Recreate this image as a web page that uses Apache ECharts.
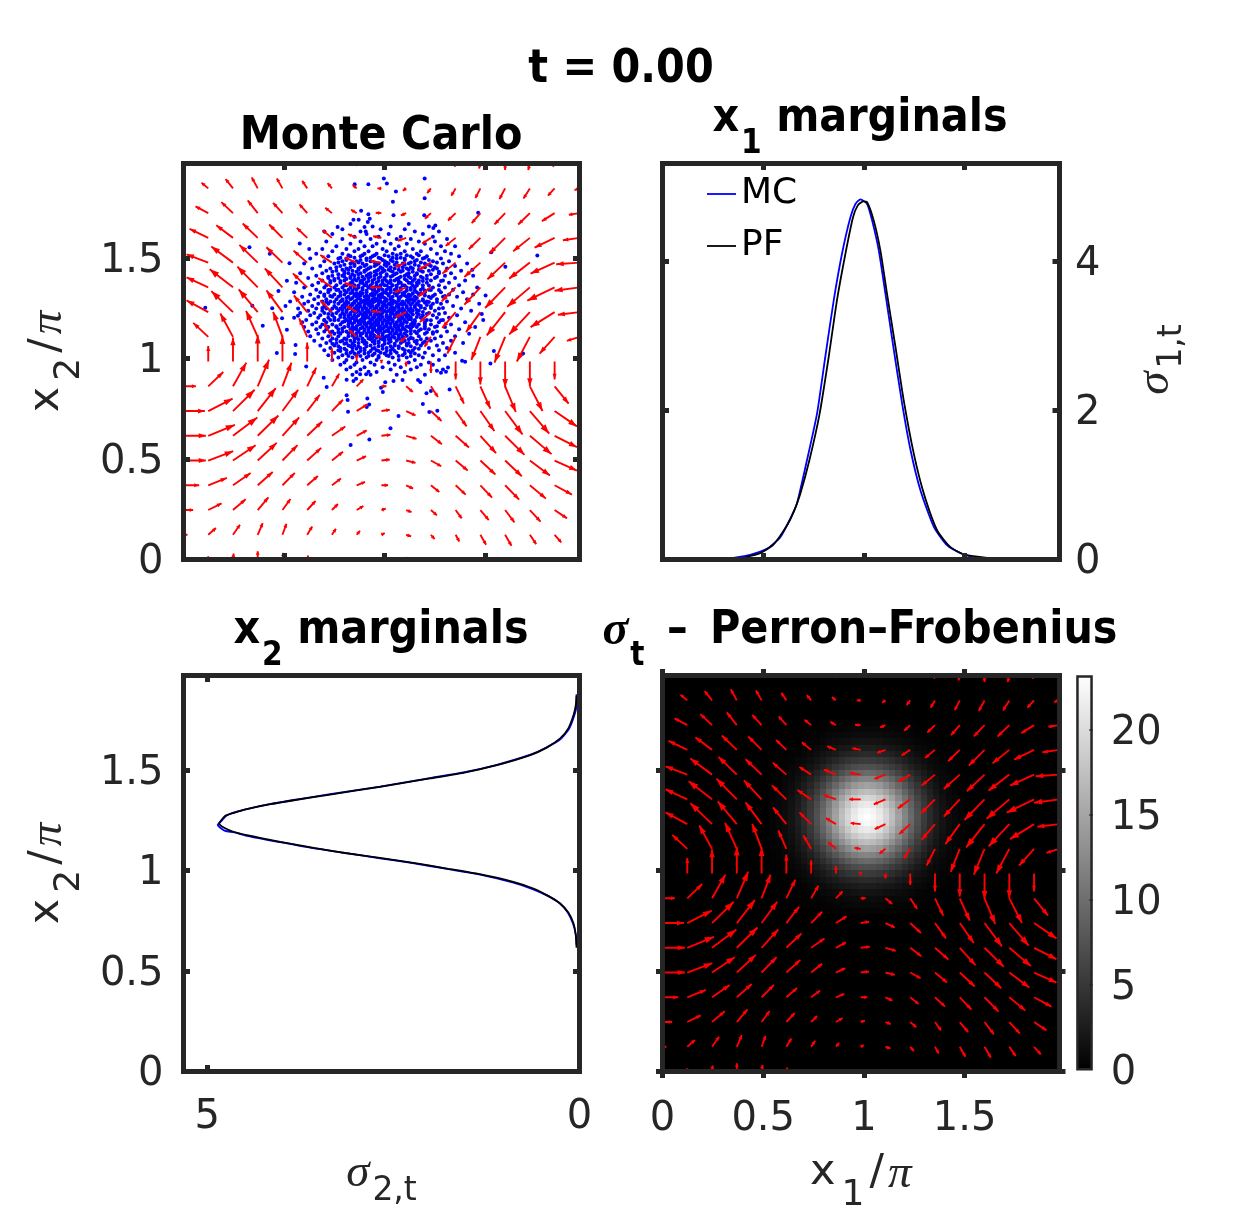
<!DOCTYPE html>
<html>
<head>
<meta charset="utf-8">
<title>t = 0.00</title>
<script src="https://cdn.jsdelivr.net/npm/echarts@6/dist/echarts.min.js"></script>
<style>
html, body { margin: 0; padding: 0; background: #fff; }
#main { width: 1250px; height: 1212px; }
</style>
</head>
<body>
<div id="main"></div>
<script>
// axis ranges and ticks
var phaseMax = 1.96875;
var phaseTicks = [0, 0.5, 1, 1.5];
var sigma1Max = 5.31;
var sigma1Ticks = [0, 2, 4];
var sigma2Max = 5.32;
var sigma2Ticks = [0, 5];
var colorMax = 23.2;
var colorTicks = [5, 10, 15, 20];
var colorLabels = [0, 5, 10, 15, 20];

// x1 marginals
var pfX1 = [0.41, 0.485, 0.551, 0.618, 0.651, 0.684, 0.729, 0.78, 0.825, 0.866, 0.908, 0.946, 0.969, 0.996, 1.016, 1.049, 1.082, 1.115, 1.157, 1.198, 1.248, 1.298, 1.364, 1.43, 1.497, 1.621, 1.7];
var pfSigma1 = [0.03, 0.085, 0.2, 0.456, 0.634, 0.88, 1.327, 1.953, 2.712, 3.472, 4.097, 4.589, 4.745, 4.803, 4.79, 4.544, 4.142, 3.561, 2.846, 2.131, 1.416, 0.88, 0.389, 0.165, 0.067, 0.02, 0];
var mcX1 = [0.352, 0.435, 0.518, 0.585, 0.634, 0.667, 0.717, 0.767, 0.808, 0.85, 0.891, 0.933, 0.958, 0.983, 1.016, 1.041, 1.074, 1.107, 1.149, 1.19, 1.232, 1.281, 1.348, 1.414, 1.48, 1.547];
var mcSigma1 = [0.02, 0.063, 0.143, 0.3, 0.545, 0.746, 1.327, 1.953, 2.712, 3.472, 4.097, 4.589, 4.767, 4.83, 4.767, 4.544, 4.142, 3.561, 2.802, 2.087, 1.461, 0.925, 0.433, 0.188, 0.085, 0.022];

// x2 marginals
var pfX2 = [0.615, 0.678, 0.736, 0.79, 0.835, 0.873, 0.91, 0.943, 0.981, 1.009, 1.037, 1.062, 1.085, 1.112, 1.142, 1.175, 1.192, 1.213, 1.233, 1.255, 1.271, 1.285, 1.304, 1.329, 1.351, 1.377, 1.415, 1.457, 1.485, 1.523, 1.573, 1.61, 1.656, 1.706, 1.772, 1.822, 1.868];
var pfSigma2 = [0.04, 0.05, 0.08, 0.15, 0.26, 0.42, 0.62, 0.89, 1.34, 1.78, 2.23, 2.68, 3.13, 3.57, 4.02, 4.47, 4.65, 4.78, 4.84, 4.8, 4.76, 4.65, 4.47, 4.15, 3.8, 3.35, 2.68, 2.01, 1.56, 1.11, 0.66, 0.44, 0.26, 0.15, 0.08, 0.05, 0.04];
var mcX2 = [0.63, 0.68, 0.738, 0.792, 0.838, 0.872, 0.907, 0.94, 0.98, 1.007, 1.036, 1.06, 1.086, 1.11, 1.14, 1.172, 1.19, 1.196, 1.225, 1.25, 1.27, 1.287, 1.305, 1.33, 1.352, 1.379, 1.416, 1.459, 1.487, 1.525, 1.575, 1.612, 1.654, 1.704, 1.77, 1.82, 1.875];
var mcSigma2 = [0.04, 0.05, 0.09, 0.16, 0.27, 0.42, 0.63, 0.9, 1.35, 1.78, 2.24, 2.68, 3.13, 3.58, 4.02, 4.47, 4.65, 4.76, 4.86, 4.8, 4.75, 4.65, 4.47, 4.15, 3.8, 3.35, 2.68, 2.01, 1.56, 1.11, 0.66, 0.44, 0.25, 0.14, 0.07, 0.04, 0.04];

// quiver grid and components, bottom row first
var quiverGrid = [0, 0.123, 0.246, 0.369, 0.492, 0.615, 0.738, 0.861, 0.984, 1.107, 1.23, 1.353, 1.476, 1.599, 1.722, 1.845, 1.969];
var quiverU = [
  [0, 0, 2, 0, 3, 3, 0, 5, 0, 2, 2, 3, 3, 3, 3, 2, 0],
  [12, 23, 21, 15, 12, 15, 12, 10, 10, 15, 11, 11, 17, 19, 19, 20, 10],
  [29, 40, 38, 32, 24, 25, 18, 20, 13, 16, 18, 18, 25, 28, 32, 37, 20],
  [47, 56, 53, 45, 37, 32, 27, 25, 20, 21, 25, 30, 35, 42, 48, 52, 30],
  [67, 75, 68, 57, 45, 42, 33, 28, 25, 28, 31, 36, 45, 50, 60, 67, 40],
  [67, 80, 73, 62, 50, 45, 40, 30, 27, 31, 33, 40, 47, 58, 65, 67, 40],
  [64, 73, 65, 54, 47, 38, 33, 32, 25, 28, 32, 33, 42, 52, 58, 67, 40],
  [37, 45, 40, 34, 27, 27, 22, 20, 15, 20, 21, 25, 30, 32, 38, 42, 20],
  [0, 0, 0, 0, 0, 0, 0, 0, 0, 0, 0, 0, 0, 0, 0, 0, 0],
  [-20, -45, -38, -35, -28, -24, -23, -23, -18, -18, -19, -25, -27, -32, -39, -45, -38],
  [-40, -65, -65, -57, -48, -40, -35, -30, -30, -32, -33, -40, -43, -55, -62, -72, -65],
  [-40, -65, -70, -61, -53, -43, -41, -36, -34, -35, -37, -42, -48, -60, -68, -82, -75],
  [-40, -65, -65, -55, -48, -41, -35, -36, -32, -33, -35, -40, -48, -53, -62, -72, -70],
  [-30, -56, -50, -45, -40, -31, -28, -26, -25, -25, -26, -30, -35, -47, -50, -60, -50],
  [-20, -38, -35, -30, -28, -23, -20, -17, -17, -16, -18, -23, -26, -32, -35, -38, -32],
  [-10, -20, -22, -18, -17, -15, -13, -12, -12, -10, -11, -13, -15, -17, -19, -20, -15],
  [0, -3, -3, -3, -3, -3, -3, -2, -2, -2, -7, -3, -4, 0, -5, -5, 0]
];
var quiverV = [
  [0, 10, 18, 25, 20, 12, 5, 5, 0, -3, -5, -8, -10, -12, -12, -8, 0],
  [0, 20, 30, 35, 33, 25, 18, 12, 5, -5, -13, -20, -30, -33, -28, -23, -5],
  [0, 20, 32, 38, 33, 27, 18, 12, 4, -6, -16, -25, -30, -37, -35, -25, -8],
  [0, 22, 37, 40, 37, 28, 20, 10, 0, -10, -20, -28, -37, -43, -40, -28, -10],
  [0, 28, 46, 53, 46, 38, 26, 13, 3, -7, -17, -30, -42, -47, -45, -30, -10],
  [0, 33, 55, 61, 55, 43, 28, 16, 3, -9, -25, -35, -52, -57, -55, -34, -10],
  [0, 37, 64, 69, 64, 49, 34, 20, 4, -13, -30, -46, -60, -70, -68, -46, -15],
  [0, 43, 71, 80, 71, 56, 38, 21, 0, -17, -32, -52, -67, -77, -74, -52, -20],
  [0, 47, 72, 80, 78, 57, 40, 23, -5, -15, -34, -54, -69, -77, -74, -54, 0],
  [20, 42, 70, 78, 75, 55, 40, 20, 3, -15, -30, -50, -69, -77, -74, -50, -12],
  [20, 35, 63, 68, 65, 50, 35, 18, 3, -15, -30, -47, -60, -70, -67, -45, -8],
  [15, 30, 54, 62, 57, 42, 28, 13, 0, -15, -27, -42, -52, -62, -58, -40, -10],
  [15, 25, 48, 53, 46, 36, 23, 15, 5, -13, -21, -33, -43, -50, -48, -33, -5],
  [10, 27, 38, 43, 40, 30, 23, 11, 5, -9, -17, -24, -34, -47, -40, -29, -7],
  [10, 20, 33, 38, 31, 26, 16, 10, 1, -7, -17, -22, -30, -34, -34, -24, -5],
  [5, 17, 28, 33, 30, 23, 16, 10, 0, -7, -14, -22, -29, -32, -30, -22, -5],
  [0, 5, 8, 10, 10, 8, 5, 3, 0, -3, -4, -10, -15, -20, -20, -10, 0]
];
var quiverScale = 1 / 603;

// Monte Carlo samples: stray points as [x, y]
var mcStray = [
  [.996,1.894],[1.199,1.894],[.851,1.865],[.919,1.865],[1.011,1.869],[1.056,1.83],[1.199,1.796],[1.041,1.779],
  [.883,1.734],[.845,1.689],[.871,1.689],[.919,1.717],[.926,1.694],[.916,1.678],[1.044,1.712],[1.197,1.712],
  [1.465,1.724],[1.252,1.661],[1.242,1.648],[.766,1.653],[.7,1.631],[.9,1.653],[.906,1.631],[.328,1.553],
  [.578,1.571],[.625,1.544],[.429,1.52],[.527,1.473],[.514,1.386],[.472,1.335],[.108,1.252],[.342,1.262],
  [.441,1.249],[.507,1.26],[.394,1.162],[.514,1.142],[.49,1.199],[.464,1.027],[.557,1.067],[.555,1.022],
  [.61,.959],[.569,1.212],[1.759,1.511],[1.6,1.456],[1.53,1.528],[1.436,1.441],[1.502,1.312],[1.483,1.22],
  [1.543,1.037],[1.526,.974],[1.688,1.024],[1.385,.988],[1.4,.983],[1.323,.845],[.697,.904],[.712,.858],
  [.811,.816],[.816,.793],[.818,.735],[.831,.569],[.924,.597],[1.029,.653],[1.069,.713],[1.222,.733],
  [1.262,.74],[1.19,.773],[1.208,.826],[1.23,.838],[1.177,.883],[1.166,.893],[.914,.8],[.923,.771],
  [.911,.758],[.991,.833],[.982,.854],[1.003,.881],[1.044,.888],[1.089,.893],[.858,.899],[.811,.894],
  [.845,.888],[.878,.921],[.908,.921],[.92,.934],[1.26,.938],[1.28,.929],[1.305,.934],[1.315,.954]
];
// dense part of the cloud: each row is y followed by its x values
var mcCloud = [
  [1.668,.83,1.12],
  [1.655,.94,1.03,1.22],
  [1.642,.79,.98,1.1],
  [1.631,.88,1.15,1.27],
  [1.618,.74,.91,1.02,1.19],
  [1.605,.85,.97,1.08,1.24],
  [1.594,.79,.93,1.06,1.13,1.31],
  [1.581,.71,.88,1,1.17,1.25],
  [1.57,.83,.96,1.03,1.11,1.2],
  [1.557,.76,.9,.94,1.07,1.28,1.35],
  [1.544,.69,.81,.87,.99,1.05,1.14,1.23],
  [1.533,.74,.85,.92,1.01,1.1,1.18,1.3],
  [1.52,.66,.79,.9,.96,1.04,1.08,1.16,1.26,1.33],
  [1.508,.72,.83,.88,.94,1.02,1.13,1.21,1.37],
  [1.496,.63,.77,.81,.91,.98,1.06,1.1,1.19,1.28],
  [1.483,.7,.79,.86,.93,1,1.04,1.15,1.24,1.32],
  [1.472,.6,.75,.83,.89,.97,1.02,1.09,1.12,1.2,1.29,1.41],
  [1.459,.68,.78,.85,.9,.95,1.01,1.07,1.17,1.23,1.35],
  [1.447,.64,.73,.81,.87,.92,.99,1.05,1.11,1.14,1.26,1.31],
  [1.436,.71,.76,.84,.9,.96,1,1.03,1.09,1.18,1.22,1.38],
  [1.423,.58,.69,.8,.82,.88,.93,.98,1.06,1.12,1.16,1.27,1.33],
  [1.411,.66,.74,.79,.85,.91,.95,1.01,1.04,1.1,1.15,1.21,1.3,1.44],
  [1.399,.62,.72,.77,.83,.87,.92,.97,1,1.07,1.13,1.19,1.25,1.35],
  [1.387,.69,.75,.8,.86,.89,.94,.99,1.03,1.05,1.11,1.17,1.23,1.29,1.4],
  [1.376,.56,.67,.73,.78,.84,.88,.91,.96,1.02,1.08,1.12,1.16,1.21,1.32],
  [1.364,.64,.71,.76,.81,.85,.9,.93,.98,1,1.04,1.09,1.14,1.19,1.27,1.37],
  [1.352,.6,.7,.75,.79,.83,.87,.92,.95,.97,1.03,1.06,1.11,1.15,1.24,1.3,1.46],
  [1.341,.66,.73,.77,.82,.86,.89,.94,.99,1.01,1.05,1.08,1.13,1.18,1.22,1.34],
  [1.329,.55,.68,.72,.78,.81,.84,.88,.91,.96,1,1.03,1.07,1.1,1.16,1.2,1.28,1.39],
  [1.318,.63,.7,.75,.8,.85,.87,.93,.95,.98,1.02,1.06,1.09,1.12,1.17,1.25,1.32,1.44],
  [1.306,.59,.67,.74,.77,.82,.86,.9,.92,.97,.99,1.04,1.08,1.11,1.15,1.22,1.29,1.36],
  [1.294,.65,.71,.76,.79,.83,.88,.91,.94,.96,1.01,1.03,1.07,1.13,1.14,1.19,1.26,1.41],
  [1.283,.53,.62,.69,.73,.78,.81,.85,.89,.93,.95,.98,1,1.05,1.09,1.12,1.17,1.21,1.31],
  [1.271,.6,.67,.72,.77,.8,.84,.87,.9,.92,.97,1.02,1.04,1.08,1.1,1.16,1.24,1.28,1.47],
  [1.26,.64,.7,.75,.79,.83,.86,.88,.94,.96,.99,1.01,1.06,1.11,1.15,1.18,1.23,1.34],
  [1.248,.57,.66,.71,.74,.78,.82,.85,.89,.91,.95,.98,1.03,1.05,1.09,1.13,1.2,1.27,1.38],
  [1.237,.62,.69,.73,.77,.81,.84,.87,.92,.94,.97,1,1.02,1.07,1.1,1.14,1.17,1.25,1.43],
  [1.225,.58,.65,.7,.76,.79,.83,.88,.9,.93,.96,.99,1.04,1.06,1.11,1.16,1.22,1.3],
  [1.214,.63,.68,.74,.78,.82,.85,.87,.91,.95,.98,1.01,1.05,1.08,1.12,1.19,1.24,1.36],
  [1.202,.55,.67,.72,.75,.8,.84,.89,.92,.94,.97,1.02,1.03,1.09,1.13,1.18,1.26,1.32],
  [1.191,.61,.7,.73,.77,.81,.86,.88,.93,.96,1,1.04,1.07,1.1,1.15,1.21,1.29,1.49],
  [1.179,.59,.66,.71,.79,.83,.85,.9,.92,.95,.99,1.02,1.06,1.11,1.14,1.2,1.27,1.4],
  [1.168,.64,.69,.74,.78,.82,.87,.91,.94,.97,1.01,1.05,1.08,1.13,1.17,1.23,1.33],
  [1.156,.6,.68,.72,.76,.8,.84,.89,.93,.98,1,1.03,1.09,1.12,1.16,1.25,1.3,1.45],
  [1.145,.66,.71,.77,.83,.86,.9,.95,.97,1.04,1.07,1.1,1.18,1.22,1.37],
  [1.133,.62,.7,.74,.79,.81,.87,.92,.96,1,1.02,1.06,1.11,1.15,1.26,1.31],
  [1.122,.67,.75,.78,.84,.88,.91,.94,.99,1.05,1.08,1.13,1.2,1.24,1.42],
  [1.11,.63,.72,.77,.82,.86,.93,.97,1.01,1.04,1.09,1.17,1.28,1.35],
  [1.099,.69,.74,.8,.85,.89,.92,.98,1.03,1.07,1.14,1.21,1.25],
  [1.087,.65,.73,.79,.83,.9,.95,1,1.06,1.1,1.16,1.23,1.33],
  [1.076,.71,.76,.81,.87,.91,.97,1.02,1.08,1.12,1.19,1.29,1.39],
  [1.064,.68,.75,.82,.85,.93,.99,1.05,1.11,1.18,1.26],
  [1.052,.73,.78,.84,.88,.95,1.01,1.07,1.15,1.22,1.31],
  [1.04,.7,.77,.81,.9,.96,1.03,1.1,1.14,1.27],
  [1.028,.75,.83,.87,.92,.98,1.06,1.13,1.2,1.35],
  [1.016,.72,.79,.86,.94,1.01,1.09,1.17,1.24,1.3],
  [1.004,.77,.84,.91,.97,1.04,1.11,1.19],
  [.992,.74,.81,.89,.96,1.07,1.15,1.27],
  [.98,.8,.86,.93,1.02,1.12,1.22],
  [.968,.78,.85,.95,1.05,1.18,1.24],
  [.956,.83,.9,.99,1.08,1.16],
  [.944,.81,.88,1.03,1.13,1.29],
  [.932,.86,.96,1.1],
  [.918,.84,.93,1.06,1.2]
];
// the solid middle of the cloud, same row layout
var mcCore = [
  [1.512,.82,.89,.95,1,1.06,1.11,1.17],
  [1.5,.78,.85,.93,.97,1.04,1.08,1.14,1.2],
  [1.489,.81,.88,.91,.99,1.03,1.1,1.16,1.22],
  [1.477,.77,.84,.87,.95,1.01,1.06,1.13,1.18,1.26],
  [1.465,.8,.85,.91,.96,1,1.05,1.1,1.15,1.22],
  [1.453,.76,.83,.88,.93,.98,1.03,1.09,1.13,1.2,1.25],
  [1.441,.79,.82,.87,.91,.97,1.02,1.07,1.12,1.17,1.24],
  [1.43,.74,.8,.86,.9,.95,.99,1.04,1.08,1.14,1.19,1.27],
  [1.418,.77,.84,.87,.92,.96,1.01,1.05,1.11,1.16,1.23],
  [1.406,.72,.8,.83,.89,.93,.98,1.03,1.08,1.12,1.18,1.26],
  [1.394,.75,.81,.85,.9,.95,1,1.06,1.1,1.15,1.21],
  [1.384,.73,.78,.84,.88,.92,.97,1.01,1.07,1.14,1.19,1.28],
  [1.375,.83,.89,.94,.99,1.03,1.07,1.13,1.17],
  [1.362,.8,.87,.91,.96,1.01,1.06,1.1,1.16,1.22],
  [1.35,.85,.89,.93,.98,1.02,1.08,1.13,1.19],
  [1.34,.72,.76,1.23,1.27],
  [1.337,.8,.84,.91,.95,.97,1.03,1.06,1.11,1.15,1.2],
  [1.324,.83,.86,.89,.94,.99,1.01,1.05,1.09,1.14,1.18],
  [1.312,.78,.85,.88,.91,.94,.97,1.02,1.06,1.1,1.13,1.2],
  [1.31,.7,.73,1.24,1.3],
  [1.3,.81,.84,.87,.92,.95,.98,1,1.03,1.07,1.12,1.16,1.23],
  [1.288,.79,.86,.9,.92,.96,.97,1.01,1.04,1.07,1.11,1.15,1.19],
  [1.28,.71,.75,1.22,1.26],
  [1.276,.82,.85,.88,.91,.94,.99,1,1.03,1.06,1.12,1.14,1.2],
  [1.265,.81,.84,.9,.92,.93,.97,1,1.03,1.07,1.09,1.13,1.17,1.21],
  [1.253,.8,.83,.87,.9,.93,.96,.99,1.01,1.04,1.07,1.11,1.15,1.18],
  [1.25,.69,.76,1.23,1.29],
  [1.241,.79,.86,.89,.91,.95,.99,1.04,1.05,1.08,1.12,1.16],
  [1.23,.81,.85,.86,.91,.92,.95,.98,1.01,1.03,1.07,1.09,1.13,1.19],
  [1.22,.72,.74,1.21,1.27],
  [1.218,.8,.83,.89,.93,.96,.97,1.03,1.06,1.1,1.14,1.17],
  [1.206,.78,.82,.86,.9,.91,.95,.99,1.01,1.05,1.07,1.11,1.16],
  [1.195,.83,.85,.9,.94,.98,1.02,1.03,1.08,1.12,1.13,1.19],
  [1.19,.7,.75,1.23,1.28],
  [1.183,.8,.82,.87,.89,.93,.97,1.01,1.04,1.08,1.1,1.15],
  [1.171,.84,.88,.9,.93,.96,.99,1.03,1.06,1.09,1.15,1.2],
  [1.16,.71,.76,1.2,1.26],
  [1.16,.82,.86,.91,.95,.97,1.01,1.05,1.07,1.11,1.14],
  [1.148,.79,.85,.88,.92,.94,.99,1.02,1.06,1.09,1.13,1.2],
  [1.137,.84,.9,.94,.98,1.01,1.04,1.08,1.13,1.17],
  [1.13,.73,.77,1.21,1.24],
  [1.125,.82,.86,.89,.93,.97,1.03,1.06,1.1,1.16],
  [1.113,.84,.88,.91,.95,.99,1.02,1.07,1.11],
  [1.102,.86,.94,.96,1,1.05,1.09,1.13],
  [1.095,.76,.81,.87,.93,.99,1.02,1.08,1.12,1.18],
  [1.084,.78,.85,.89,.94,.97,1.03,1.09,1.15,1.2],
  [1.072,.74,.8,.84,.9,.95,1,1.05,1.11,1.16],
  [1.06,.77,.83,.87,.91,.97,1.03,1.07,1.13],
  [1.048,.8,.86,.9,.94,.99,1.04,1.09,1.17],
  [1.036,.78,.84,.88,.93,.97,1.01,1.05,1.12],
  [1.024,.81,.85,.9,.95,1,1.03,1.1,1.15],
  [1.012,.82,.88,.92,.97,1.02,1.07,1.13]
];

// Perron-Frobenius density around the peak, the rest of the image is 0
var heatCell = 0.03125;
var heatFirstCol = 17;
var heatFirstRow = 25;
var heatRows = [
  [0,0,0,0,0,.1,.1,.1,.2,.2,.3,.3,.3,.4,.4,.4,.4,.4,.3,.3,.3,.2,.2,.1,.1,.1,0,0,0,0,0],
  [0,0,0,.1,.1,.1,.2,.2,.3,.4,.4,.5,.6,.7,.7,.7,.7,.7,.6,.5,.4,.4,.3,.2,.2,.1,.1,.1,0,0,0],
  [0,0,.1,.1,.1,.2,.3,.3,.5,.6,.7,.8,.9,1,1.1,1.1,1.1,1,.9,.8,.7,.6,.5,.3,.3,.2,.1,.1,.1,0,0],
  [0,.1,.1,.1,.2,.3,.4,.5,.7,.9,1.1,1.3,1.4,1.6,1.7,1.7,1.7,1.6,1.4,1.3,1.1,.9,.7,.5,.4,.3,.2,.1,.1,.1,0],
  [0,.1,.1,.2,.3,.4,.6,.8,1.1,1.4,1.7,2,2.2,2.4,2.6,2.6,2.6,2.4,2.2,2,1.7,1.4,1.1,.8,.6,.4,.3,.2,.1,.1,0],
  [.1,.1,.2,.3,.4,.6,.9,1.2,1.6,2,2.4,2.9,3.2,3.5,3.7,3.8,3.7,3.5,3.2,2.9,2.4,2,1.6,1.2,.9,.6,.4,.3,.2,.1,.1],
  [.1,.2,.3,.4,.6,.9,1.3,1.7,2.2,2.8,3.5,4.1,4.6,5,5.3,5.4,5.3,5,4.6,4.1,3.5,2.8,2.2,1.7,1.3,.9,.6,.4,.3,.2,.1],
  [.1,.2,.4,.6,.8,1.2,1.7,2.3,3,3.8,4.7,5.5,6.2,6.8,7.2,7.3,7.2,6.8,6.2,5.5,4.7,3.8,3,2.3,1.7,1.2,.8,.6,.4,.2,.1],
  [.2,.3,.5,.7,1.1,1.6,2.3,3.1,4,5,6.1,7.2,8.2,8.9,9.4,9.6,9.4,8.9,8.2,7.2,6.1,5,4,3.1,2.3,1.6,1.1,.7,.5,.3,.2],
  [.2,.4,.6,.9,1.4,2,2.8,3.8,5,6.4,7.7,9.1,10.3,11.3,11.9,12.1,11.9,11.3,10.3,9.1,7.7,6.4,5,3.8,2.8,2,1.4,.9,.6,.4,.2],
  [.3,.4,.7,1.1,1.7,2.5,3.5,4.7,6.1,7.7,9.4,11,12.5,13.7,14.4,14.7,14.4,13.7,12.5,11,9.4,7.7,6.1,4.7,3.5,2.5,1.7,1.1,.7,.4,.3],
  [.3,.5,.8,1.3,2,2.9,4.1,5.5,7.2,9.1,11.1,13,14.7,16.1,17,17.3,17,16.1,14.7,13,11.1,9.1,7.2,5.5,4.1,2.9,2,1.3,.8,.5,.3],
  [.4,.6,.9,1.5,2.3,3.3,4.6,6.2,8.2,10.3,12.5,14.7,16.7,18.2,19.2,19.6,19.2,18.2,16.7,14.7,12.5,10.3,8.2,6.2,4.6,3.3,2.3,1.5,.9,.6,.4],
  [.4,.6,1,1.6,2.5,3.6,5,6.8,8.9,11.2,13.7,16.1,18.2,19.9,21,21.4,21,19.9,18.2,16.1,13.7,11.2,8.9,6.8,5,3.6,2.5,1.6,1,.6,.4],
  [.4,.7,1.1,1.7,2.6,3.8,5.3,7.2,9.4,11.9,14.4,17,19.2,21,22.2,22.6,22.2,21,19.2,17,14.4,11.9,9.4,7.2,5.3,3.8,2.6,1.7,1.1,.7,.4],
  [.4,.7,1.1,1.7,2.6,3.8,5.4,7.3,9.6,12.1,14.7,17.3,19.6,21.4,22.6,23.2,22.6,21.4,19.6,17.3,14.7,12.1,9.6,7.3,5.4,3.8,2.6,1.7,1.1,.7,.4],
  [.4,.7,1.1,1.7,2.6,3.8,5.3,7.2,9.4,11.9,14.4,17,19.2,21,22.2,22.6,22.2,21,19.2,17,14.4,11.9,9.4,7.2,5.3,3.8,2.6,1.7,1.1,.7,.4],
  [.4,.6,1,1.6,2.5,3.6,5,6.8,8.9,11.2,13.7,16.1,18.2,19.9,21,21.4,21,19.9,18.2,16.1,13.7,11.2,8.9,6.8,5,3.6,2.5,1.6,1,.6,.4],
  [.4,.6,.9,1.5,2.3,3.3,4.6,6.2,8.2,10.3,12.5,14.7,16.7,18.2,19.2,19.6,19.2,18.2,16.7,14.7,12.5,10.3,8.2,6.2,4.6,3.3,2.3,1.5,.9,.6,.4],
  [.3,.5,.8,1.3,2,2.9,4.1,5.5,7.2,9.1,11.1,13,14.7,16.1,17,17.3,17,16.1,14.7,13,11.1,9.1,7.2,5.5,4.1,2.9,2,1.3,.8,.5,.3],
  [.3,.4,.7,1.1,1.7,2.5,3.5,4.7,6.1,7.7,9.4,11,12.5,13.7,14.4,14.7,14.4,13.7,12.5,11,9.4,7.7,6.1,4.7,3.5,2.5,1.7,1.1,.7,.4,.3],
  [.2,.4,.6,.9,1.4,2,2.8,3.8,5,6.4,7.7,9.1,10.3,11.3,11.9,12.1,11.9,11.3,10.3,9.1,7.7,6.4,5,3.8,2.8,2,1.4,.9,.6,.4,.2],
  [.2,.3,.5,.7,1.1,1.6,2.3,3.1,4,5,6.1,7.2,8.2,8.9,9.4,9.6,9.4,8.9,8.2,7.2,6.1,5,4,3.1,2.3,1.6,1.1,.7,.5,.3,.2],
  [.1,.2,.4,.6,.8,1.2,1.7,2.3,3,3.8,4.7,5.5,6.2,6.8,7.2,7.3,7.2,6.8,6.2,5.5,4.7,3.8,3,2.3,1.7,1.2,.8,.6,.4,.2,.1],
  [.1,.2,.3,.4,.6,.9,1.3,1.7,2.2,2.8,3.5,4.1,4.6,5,5.3,5.4,5.3,5,4.6,4.1,3.5,2.8,2.2,1.7,1.3,.9,.6,.4,.3,.2,.1],
  [.1,.1,.2,.3,.4,.6,.9,1.2,1.6,2,2.4,2.9,3.2,3.5,3.7,3.8,3.7,3.5,3.2,2.9,2.4,2,1.6,1.2,.9,.6,.4,.3,.2,.1,.1],
  [0,.1,.1,.2,.3,.4,.6,.8,1.1,1.4,1.7,2,2.2,2.4,2.6,2.6,2.6,2.4,2.2,2,1.7,1.4,1.1,.8,.6,.4,.3,.2,.1,.1,0],
  [0,.1,.1,.1,.2,.3,.4,.5,.7,.9,1.1,1.3,1.4,1.6,1.7,1.7,1.7,1.6,1.4,1.3,1.1,.9,.7,.5,.4,.3,.2,.1,.1,.1,0],
  [0,0,.1,.1,.1,.2,.3,.3,.5,.6,.7,.8,.9,1,1.1,1.1,1.1,1,.9,.8,.7,.6,.5,.3,.3,.2,.1,.1,.1,0,0],
  [0,0,0,.1,.1,.1,.2,.2,.3,.4,.4,.5,.6,.7,.7,.7,.7,.7,.6,.5,.4,.4,.3,.2,.2,.1,.1,.1,0,0,0],
  [0,0,0,0,0,.1,.1,.1,.2,.2,.3,.3,.3,.4,.4,.4,.4,.4,.3,.3,.3,.2,.2,.1,.1,.1,0,0,0,0,0]
];

var inkColor = '#262626';
var tickFont = '"DejaVu Sans", sans-serif';
var titleFont = '"DejaVu Sans Condensed", "DejaVu Sans", sans-serif';
var mathFont = '"Liberation Serif", serif';
var boxWidth = 5;

function pairs(xs, ys) {
    var out = [];
    for (var i = 0; i < xs.length; i++) {
        out.push([xs[i], ys[i]]);
    }
    return out;
}

var mcPoints = mcStray.slice();
mcCloud.concat(mcCore).forEach(function (row) {
    for (var i = 1; i < row.length; i++) {
        mcPoints.push([row[i], row[0]]);
    }
});

var quiverData = [];
quiverGrid.forEach(function (y, j) {
    quiverGrid.forEach(function (x, i) {
        if (quiverU[j][i] != 0 || quiverV[j][i] != 0) {
            quiverData.push([x, y, quiverU[j][i], quiverV[j][i]]);
        }
    });
});

var heatData = [];
heatRows.forEach(function (row, j) {
    row.forEach(function (val, i) {
        heatData.push([(heatFirstCol + i) * heatCell, (heatFirstRow + j) * heatCell, val]);
    });
});

function renderArrow(params, api) {
    var x = api.value(0), y = api.value(1);
    var a = api.coord([x, y]);
    var b = api.coord([x + api.value(2) * quiverScale, y + api.value(3) * quiverScale]);
    var dx = b[0] - a[0], dy = b[1] - a[1];
    var len = Math.sqrt(dx * dx + dy * dy);
    var ux = dx / len, uy = dy / len;
    var headLen = Math.max(len * 0.32, 3.5);
    var half = Math.max(len * 0.11, 2);
    var bx = b[0] - ux * headLen, by = b[1] - uy * headLen;
    return {
        type: 'group',
        children: [{
            type: 'line',
            shape: {x1: a[0], y1: a[1], x2: b[0], y2: b[1]},
            style: {stroke: '#ff0000', lineWidth: 1.9, fill: null}
        }, {
            type: 'polygon',
            shape: {points: [[b[0], b[1]], [bx - uy * half, by + ux * half], [bx + uy * half, by - ux * half]]},
            style: {fill: '#ff0000'}
        }]
    };
}

function renderHeat(params, api) {
    var x = api.value(0), y = api.value(1);
    var a = api.coord([x, y]);
    var b = api.coord([x + heatCell, y + heatCell]);
    var left = Math.round(a[0]), top = Math.round(b[1]);
    return {
        type: 'rect',
        shape: {x: left, y: top, width: Math.round(b[0]) - left, height: Math.round(a[1]) - top},
        style: {fill: api.visual('color')}
    };
}

var labelRich = {
    v: {fontFamily: tickFont, fontSize: 40, color: inkColor, padding: [7, 0, 0, 0]}
};

// one side of an axes box; the series draw through these scales
function side(gridIndex, position, max, ticks, out, labels, extra) {
    var isBottom = position == 'bottom';
    var axis = {
        type: 'value',
        gridIndex: gridIndex,
        position: position,
        min: 0,
        max: max,
        z: 6,
        splitLine: {show: false},
        axisLine: {show: true, onZero: false, lineStyle: {color: inkColor, width: boxWidth, cap: 'square'}},
        axisTick: {show: true, inside: !out, length: 6.5, customValues: ticks, lineStyle: {color: inkColor, width: boxWidth}},
        axisLabel: {
            show: !!labels,
            customValues: labels || undefined,
            margin: isBottom ? (out ? 28 : 26) : (position == 'right' ? 16 : 20),
            formatter: isBottom ? '{value}' : '{v|{value}}',
            rich: labelRich,
            fontFamily: tickFont,
            fontSize: 40,
            color: inkColor
        }
    };
    return Object.assign(axis, extra);
}

var nameRich = {
    a: {fontFamily: tickFont, fontSize: 43, color: inkColor, lineHeight: 44, verticalAlign: 'top'},
    s: {fontFamily: tickFont, fontSize: 36, color: inkColor, lineHeight: 38, padding: [26, 5, 0, 6], verticalAlign: 'top'},
    m: {fontFamily: mathFont, fontStyle: 'italic', fontSize: 47, color: inkColor, lineHeight: 46, verticalAlign: 'top', padding: [0, 0, 0, 4]},
    g: {fontFamily: mathFont, fontStyle: 'italic', fontSize: 47, color: inkColor, lineHeight: 46, verticalAlign: 'top', padding: [0, 0, 0, 0]},
    u: {fontFamily: mathFont, fontStyle: 'italic', fontSize: 47, color: inkColor, lineHeight: 46, verticalAlign: 'top', padding: [0, 0, 0, 4]},
    t: {fontFamily: tickFont, fontSize: 33, color: inkColor, lineHeight: 34, padding: [24, 0, 0, 3], verticalAlign: 'top'}
};

var titleRich = {
    b: {fontFamily: titleFont, fontWeight: 'bold', fontSize: 46, color: '#000', lineHeight: 48, verticalAlign: 'top'},
    q: {fontFamily: titleFont, fontWeight: 'bold', fontSize: 46, color: '#000', lineHeight: 48, verticalAlign: 'top', padding: [0, 8, 0, 8]},
    s: {fontFamily: titleFont, fontWeight: 'bold', fontSize: 33, color: '#000', lineHeight: 34, padding: [32, 0, 0, 2], verticalAlign: 'top'},
    m: {fontFamily: mathFont, fontStyle: 'italic', fontSize: 48, color: '#000', lineHeight: 48, verticalAlign: 'top'}
};

function panelTitle(text, x, y) {
    return {text: text, left: x, top: y, textAlign: 'center', padding: 0, textStyle: {rich: titleRich, fontSize: 46}};
}

function lineSeries(name, color, x, y, data) {
    return {
        type: 'line',
        name: name,
        xAxisIndex: x,
        yAxisIndex: y,
        data: data,
        symbol: 'none',
        smooth: 0.2,
        lineStyle: {color: color, width: 1.8},
        itemStyle: {color: color},
        z: 3
    };
}

function quiverSeries(x, y) {
    return {
        type: 'custom',
        xAxisIndex: x,
        yAxisIndex: y,
        data: quiverData,
        renderItem: renderArrow,
        encode: {x: 0, y: 1},
        clip: true,
        silent: true,
        z: 4
    };
}

var option = {
    animation: false,
    backgroundColor: '#fff',
    title: [
        panelTitle('{b|t = 0.00}', 621, 47),
        panelTitle('{b|Monte Carlo}', 381, 114),
        panelTitle('{b|x}{s|1}{b| marginals}', 860, 96),
        panelTitle('{b|x}{s|2}{b| marginals}', 381, 608),
        panelTitle('{m|σ}{s|t}{b| }{q|–}{b| Perron–Frobenius}', 860, 608)
    ],
    legend: {
        data: ['MC', 'PF'],
        orient: 'vertical',
        left: 707,
        top: 176,
        padding: 0,
        icon: 'rect',
        itemGap: 16,
        itemWidth: 29,
        itemHeight: 1.8,
        selectedMode: false,
        textStyle: {fontFamily: tickFont, fontSize: 36, color: '#000'}
    },
    grid: [
        {left: 183.5, top: 163.5, width: 396, height: 396, outerBoundsMode: 'none'},
        {left: 662.5, top: 163.5, width: 396.5, height: 396, outerBoundsMode: 'none'},
        {left: 183.5, top: 675.5, width: 396, height: 396, outerBoundsMode: 'none'},
        {left: 662.5, top: 675.5, width: 396.5, height: 396, show: true, backgroundColor: '#000', borderWidth: 0, outerBoundsMode: 'none'},
        {left: 1076.2, top: 675.3, width: 16.6, height: 395.1, outerBoundsMode: 'none'}
    ],
    xAxis: [
        side(0, 'bottom', phaseMax, phaseTicks, false),
        side(0, 'top', phaseMax, phaseTicks, false),
        side(1, 'bottom', phaseMax, phaseTicks, false),
        side(1, 'top', phaseMax, phaseTicks, false),
        side(2, 'bottom', sigma2Max, sigma2Ticks, false, sigma2Ticks, {
            inverse: true,
            name: '{g|σ}{t|2,t}',
            nameLocation: 'middle',
            nameGap: 79,
            nameTextStyle: {rich: nameRich}
        }),
        side(2, 'top', sigma2Max, sigma2Ticks, false, null, {inverse: true}),
        side(3, 'bottom', phaseMax, phaseTicks, true, phaseTicks, {
            name: '{a|x}{s|1}{a|/}{m|π}',
            nameLocation: 'middle',
            nameGap: 80,
            nameTextStyle: {rich: nameRich}
        }),
        side(3, 'top', phaseMax, phaseTicks, true),
        {
            type: 'category',
            gridIndex: 4,
            data: ['σt'],
            axisLine: {show: false},
            axisTick: {show: false},
            axisLabel: {show: false}
        }
    ],
    yAxis: [
        side(0, 'left', phaseMax, phaseTicks, false, phaseTicks, {
            name: '{a|x}{s|2}{a|/}{m|π}',
            nameLocation: 'middle',
            nameRotate: 90,
            nameGap: 112,
            nameTextStyle: {rich: nameRich}
        }),
        side(0, 'right', phaseMax, phaseTicks, false),
        side(1, 'left', sigma1Max, sigma1Ticks, false),
        side(1, 'right', sigma1Max, sigma1Ticks, false, sigma1Ticks, {
            name: '{u|σ}{t|1,t}',
            nameLocation: 'middle',
            nameRotate: 90,
            nameGap: 73,
            nameTextStyle: {rich: nameRich}
        }),
        side(2, 'left', phaseMax, phaseTicks, false, phaseTicks, {
            name: '{a|x}{s|2}{a|/}{m|π}',
            nameLocation: 'middle',
            nameRotate: 90,
            nameGap: 112,
            nameTextStyle: {rich: nameRich}
        }),
        side(2, 'right', phaseMax, phaseTicks, false),
        side(3, 'left', phaseMax, phaseTicks, true),
        side(3, 'right', phaseMax, phaseTicks, true),
        {
            type: 'value',
            gridIndex: 4,
            position: 'right',
            min: 0,
            max: colorMax,
            z: 6,
            splitLine: {show: false},
            axisLine: {show: false},
            axisTick: {show: true, inside: true, length: 3.5, customValues: colorTicks, lineStyle: {color: inkColor, width: 1.5}},
            axisLabel: {customValues: colorLabels, margin: 18, formatter: '{v|{value}}', rich: labelRich, fontFamily: tickFont, fontSize: 40, color: inkColor}
        }
    ],
    visualMap: {
        show: false,
        type: 'continuous',
        seriesIndex: 6,
        dimension: 2,
        min: 0,
        max: colorMax,
        inRange: {color: ['#000000', '#ffffff']}
    },
    series: [
        {
            type: 'scatter',
            xAxisIndex: 0,
            yAxisIndex: 0,
            data: mcPoints,
            symbolSize: 4,
            itemStyle: {color: '#0000ff', opacity: 1},
            silent: true,
            z: 2
        },
        quiverSeries(0, 0),
        lineSeries('MC', '#0000ff', 2, 2, pairs(mcX1, mcSigma1)),
        lineSeries('PF', '#000000', 2, 2, pairs(pfX1, pfSigma1)),
        lineSeries('MC', '#0000ff', 4, 4, pairs(mcSigma2, mcX2)),
        lineSeries('PF', '#000000', 4, 4, pairs(pfSigma2, pfX2)),
        {
            type: 'custom',
            xAxisIndex: 6,
            yAxisIndex: 6,
            data: heatData,
            renderItem: renderHeat,
            encode: {x: 0, y: 1},
            clip: true,
            silent: true,
            z: 2
        },
        quiverSeries(6, 6),
        {
            type: 'bar',
            xAxisIndex: 8,
            yAxisIndex: 8,
            data: [colorMax],
            barWidth: '100%',
            silent: true,
            itemStyle: {
                borderColor: inkColor,
                borderWidth: 2.5,
                color: {
                    type: 'linear', x: 0, y: 0, x2: 0, y2: 1,
                    colorStops: [{offset: 0, color: '#ffffff'}, {offset: 1, color: '#000000'}]
                }
            }
        }
    ]
};

var myChart = echarts.init(document.getElementById('main'));
myChart.setOption(option);
</script>
</body>
</html>
